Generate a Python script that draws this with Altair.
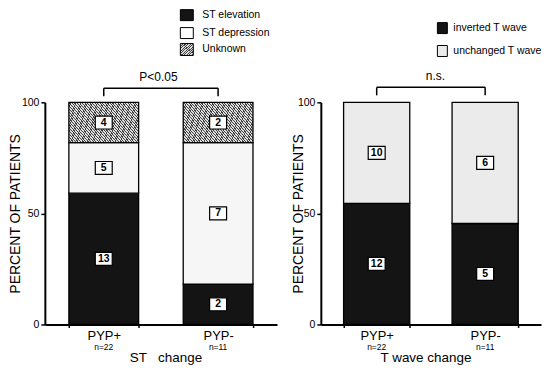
import altair as alt
import pandas as pd

# ---------------- data ----------------
groups = ["PYP+", "PYP-"]
n_patients = [22, 11]
n_labels = ["n=22", "n=11"]

st_categories = ["ST elevation", "ST depression", "Unknown"]
st_elevation = [13, 2]
st_depression = [5, 7]
st_unknown = [4, 2]

t_categories = ["inverted T wave", "unchanged T wave"]
t_inverted = [12, 5]
t_unchanged = [10, 6]

st_test = "P<0.05"
t_test = "n.s."
y_ticks = [0, 50, 100]

FONT = "Liberation Sans, Arial, Helvetica, sans-serif"


def hatch(n, dark="#404040", light="#dedede"):
    stops = []
    for k in range(n):
        a = k / n
        b = (k + 0.45) / n
        c = (k + 1) / n
        stops += [
            {"offset": a, "color": dark},
            {"offset": b, "color": dark},
            {"offset": b, "color": light},
            {"offset": c, "color": light},
        ]
    return {"gradient": "linear", "x1": 0, "y1": 0, "x2": 1, "y2": 1, "stops": stops}


def seg_table(cats, counts):
    rows = []
    for gi, g in enumerate(groups):
        base = 0.0
        for cat, cnt in zip(cats, counts):
            pct = cnt[gi] / n_patients[gi] * 100
            rows.append(dict(group=g, cat=cat, y0=base, y1=base + pct,
                             mid=base + pct / 2, label=str(cnt[gi])))
            base += pct
    return pd.DataFrame(rows)


st_df = seg_table(st_categories, [st_elevation, st_depression, st_unknown])
t_df = seg_table(t_categories, [t_inverted, t_unchanged])
n_df = pd.DataFrame({"group": groups, "n": n_labels})
bracket_df = pd.DataFrame({"group": groups})


def panel(df, cats, fills, width, height, xtitle, title_x, title_y, ytitle_x,
          ptext, ptext_xy, bracket_y, legend):
    xs = alt.Scale(domain=groups, paddingInner=0.39, paddingOuter=0.21)
    ys = alt.Scale(domain=[0, 100], nice=False)
    xaxis = alt.Axis(title=xtitle, labelAngle=0, labelFontSize=13, labelColor="black",
                     labelFont=FONT, labelPadding=2, tickBand="extent", ticks=True,
                     tickSize=3, tickWidth=1.5, tickColor="black", domainColor="black",
                     domainWidth=2, titleFontSize=13.5, titleFontWeight="normal",
                     titleColor="black", titleFont=FONT, titleX=title_x, titleY=title_y,
                     titleBaseline="middle", titleAlign="center")
    yaxis = alt.Axis(values=y_ticks, title="PERCENT OF PATIENTS", grid=False,
                     domainColor="black", domainWidth=2, tickColor="black", tickWidth=1.5,
                     tickSize=4, labelFontSize=10.5, labelColor="black", labelFont=FONT,
                     labelPadding=2, titleFontSize=14, titleFontWeight="normal",
                     titleColor="black", titleFont=FONT, titleX=ytitle_x, titleY=height / 2,
                     titleAngle=270, titleAlign="center", titleBaseline="middle")
    X = alt.X("group:N", scale=xs, sort=groups, axis=xaxis)

    layers = []
    for cat, fill in zip(cats, fills):
        layers.append(
            alt.Chart(df).transform_filter(alt.datum.cat == cat)
            .mark_bar(fill=fill, stroke="black", strokeWidth=1.3)
            .encode(x=X, y=alt.Y("y0:Q", scale=ys, axis=yaxis), y2="y1:Q")
        )
    boxes = alt.Chart(df).mark_bar(width=17, fill="white", stroke="black", strokeWidth=1.2,
                                   yOffset=-6.5, y2Offset=6.5).encode(
        x=X, y=alt.Y("mid:Q", scale=ys, axis=yaxis), y2="mid:Q")
    nums = alt.Chart(df).mark_text(font=FONT, fontSize=10.5, fontWeight="bold",
                                   color="black", baseline="middle").encode(
        x=X, y=alt.Y("mid:Q", scale=ys, axis=yaxis), text="label:N")
    nlab = alt.Chart(n_df).mark_text(font=FONT, fontSize=8.5, color="black",
                                     baseline="middle").encode(
        x=X, y=alt.value(height + 22.5), text="n:N")
    br_v = alt.Chart(bracket_df).mark_rule(color="black", strokeWidth=1.5).encode(
        x=X, y=alt.value(bracket_y), y2=alt.value(bracket_y + 8))
    br_h = alt.Chart(bracket_df).mark_line(color="black", strokeWidth=1.5).encode(
        x=X, y=alt.value(bracket_y))
    ptxt = alt.Chart(pd.DataFrame({"t": [ptext]})).mark_text(
        font=FONT, fontSize=12, color="black", baseline="middle").encode(
        x=alt.value(ptext_xy[0]), y=alt.value(ptext_xy[1]), text="t:N")
    layers += [boxes, nums, nlab, br_v, br_h, ptxt]

    for label, fill, sx, sy, tx, ty in legend:
        d = pd.DataFrame({"t": [label]})
        layers.append(alt.Chart(d).mark_rect(fill=fill, stroke="black", strokeWidth=1).encode(
            x=alt.value(sx[0]), x2=alt.value(sx[1]), y=alt.value(sy[0]), y2=alt.value(sy[1])))
        layers.append(alt.Chart(d).mark_text(font=FONT, fontSize=10.5, color="black",
                                             align="left", baseline="middle").encode(
            x=alt.value(tx), y=alt.value(ty), text="t:N"))

    return alt.layer(*layers).properties(width=width, height=height)


st_fills = ["#141414", "#f6f6f6", hatch(55)]
t_fills = ["#141414", "#ebebeb"]

left = panel(
    st_df, st_categories, st_fills, 233, 223,
    "ST\u00a0\u00a0\u00a0change", 121, 33.5, -29, st_test, (114, -25), -14,
    [
        (st_categories[0], "#141414", (136, 149), (-93, -82), 158, -87.5),
        (st_categories[1], "#ffffff", (136, 149), (-75, -64), 158, -70),
        ("\u00a0\u00a0" + st_categories[2], hatch(10), (136, 149), (-59, -47), 158, -53.5),
    ],
)
right = panel(
    t_df, t_categories, t_fills, 221, 223,
    "T wave change", 105, 33.5, -22, t_test, (115, -26), -15,
    [
        (t_categories[0], "#141414", (117, 127), (-80, -69), 133, -74.5),
        (t_categories[1], "#ebebeb", (117, 127), (-57, -46), 133, -51.5),
    ],
)

chart = alt.hconcat(left, right, spacing=14).properties(padding=0).configure_view(
    stroke=None).configure_text(font=FONT)

chart.save("out.html", embed_options={"renderer": "svg", "actions": False})
